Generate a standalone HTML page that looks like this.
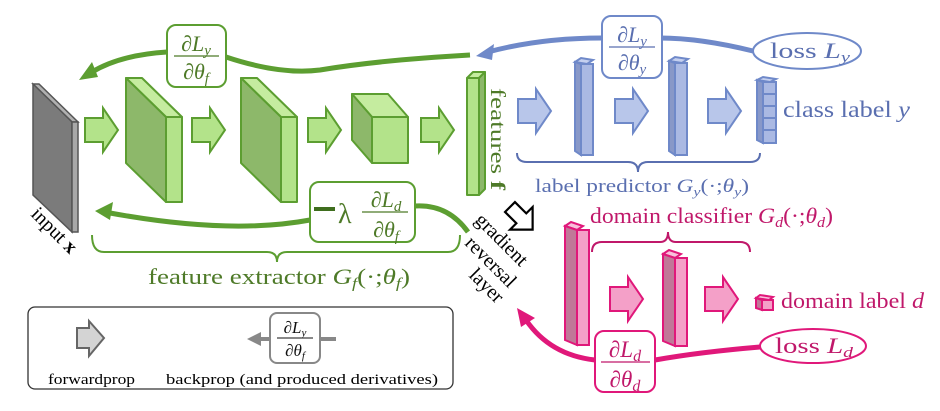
<!DOCTYPE html>
<html><head><meta charset="utf-8"><style>
html,body{margin:0;padding:0;background:#fff;}
svg{display:block;font-family:"Liberation Serif",serif;}
</style></head><body>
<svg width="940" height="411" viewBox="0 0 940 411" xmlns="http://www.w3.org/2000/svg">
<defs>
<g id="garr"><path d="M0,10 H18 V0 L33,22 L18,44 V34 H0 Z"/></g>
</defs>

<!-- input slab -->
<polygon points="33,84 39,84 78,122 72,122" fill="#b0b0b0" stroke="#555" stroke-width="1.5"/>
<polygon points="33,84 72,122 72,232 33,195" fill="#7b7b7b" stroke="#555" stroke-width="1.5"/>
<rect x="72" y="122" width="6" height="110" fill="#a8a8a8" stroke="#555" stroke-width="1.5"/>
<text transform="translate(30,215) rotate(45)" font-size="20">input <tspan font-weight="bold">x</tspan></text>

<!-- green forward arrows -->
<g fill="#b3e38a" stroke="#5c9e31" stroke-width="2">
<use href="#garr" x="85" y="108"/>
<use href="#garr" x="192" y="108"/>
<use href="#garr" x="308" y="108"/>
<use href="#garr" x="421" y="108"/>
</g>
<g stroke="#5c9e31" stroke-width="2" stroke-linejoin="round">
<polygon points="126,78 142,78 182,117 166,117" fill="#c5ec9f"/>
<polygon points="126,78 166,117 166,202 126,163" fill="#8db86a"/>
<rect x="166" y="117" width="16" height="85" fill="#b3e38a"/>
<polygon points="241,78 257,78 297,117 281,117" fill="#c5ec9f"/>
<polygon points="241,78 281,117 281,202 241,163" fill="#8db86a"/>
<rect x="281" y="117" width="16" height="85" fill="#b3e38a"/>
<polygon points="352,94 388,94 408,117 372,117" fill="#c5ec9f"/>
<polygon points="352,94 372,117 372,163 352,140" fill="#8db86a"/>
<rect x="372" y="117" width="36" height="46" fill="#b3e38a"/>
<polygon points="467,78 473,72 485,72 479,78" fill="#c5ec9f"/>
<rect x="467" y="78" width="12" height="117" fill="#b3e38a"/>
<polygon points="479,78 485,72 485,189 479,195" fill="#8db86a"/>
</g>
<text transform="translate(491,88) rotate(90)" font-size="21" fill="#4e7a28" textLength="102" lengthAdjust="spacingAndGlyphs">features <tspan font-weight="bold">f</tspan></text>

<!-- blue -->
<g fill="#b8c6ea" stroke="#6f89c9" stroke-width="2">
<use href="#garr" x="518" y="89"/>
<use href="#garr" x="615" y="89"/>
<use href="#garr" x="708" y="89"/>
</g>
<g stroke="#6f89c9" stroke-width="2" fill="#aab9e3">
<polygon points="575,62 581,58 593,60 587,64" fill="#c5d0ef"/>
<rect x="581" y="64" width="12" height="91"/>
<polygon points="575,62 581,64 581,155 575,151" fill="#8898c8"/>
<polygon points="669,61 675,57 688,59 682,63" fill="#c5d0ef"/>
<rect x="675" y="63" width="12" height="92"/>
<polygon points="669,61 675,63 675,155 669,151" fill="#8898c8"/>
<polygon points="757,80 763,77 776,79 770,82" fill="#c5d0ef"/>
<rect x="763" y="82" width="13" height="61"/>
<polygon points="757,80 763,82 763,143 757,140" fill="#8898c8"/>
<line x1="763" y1="94" x2="776" y2="94"/><line x1="763" y1="106" x2="776" y2="106"/><line x1="763" y1="118" x2="776" y2="118"/><line x1="763" y1="130" x2="776" y2="130"/>
</g>
<text x="783" y="117" font-size="23" fill="#5a6fb0" textLength="127" lengthAdjust="spacingAndGlyphs">class label <tspan font-style="italic">y</tspan></text>
<path d="M517,153 Q517,162 527,162 L628,162 Q638,162 638,172 Q638,162 648,162 L750,162 Q760,162 760,153" fill="none" stroke="#5a6fb0" stroke-width="2"/>
<text x="535" y="192" font-size="19" fill="#5a6fb0" textLength="214" lengthAdjust="spacingAndGlyphs">label predictor <tspan font-style="italic">G<tspan font-size="13" dy="4">y</tspan></tspan><tspan dy="-4">(·;</tspan><tspan font-style="italic">θ<tspan font-size="13" dy="4">y</tspan></tspan><tspan dy="-4">)</tspan></text>
<ellipse cx="807" cy="51" rx="54" ry="18" fill="#fff" stroke="#6f89c9" stroke-width="2"/>
<text x="770" y="58" font-size="22" fill="#5a6fb0" textLength="80" lengthAdjust="spacingAndGlyphs">loss <tspan font-style="italic">L<tspan font-size="15" dy="4">y</tspan></tspan></text>
<path d="M753,51 Q700,38 660,38 M602,38 Q540,38 488,52" fill="none" stroke="#6f89c9" stroke-width="5"/>
<polygon points="476,56 494,44 492,60" fill="#6f89c9"/>
<rect x="602" y="16" width="60" height="62" rx="9" fill="#fff" stroke="#6f89c9" stroke-width="2"/>
<g fill="#5a6fb0" font-size="22" text-anchor="middle">
<text x="632" y="42">∂<tspan font-style="italic">L<tspan font-size="15" dy="4">y</tspan></tspan></text>
<line x1="609" y1="47" x2="655" y2="47" stroke="#5a6fb0" stroke-width="1.3"/>
<text x="632" y="70">∂<tspan font-style="italic">θ<tspan font-size="15" dy="4">y</tspan></tspan></text>
</g>

<!-- green top backprop -->
<path d="M470,55 Q380,60 320,70 Q280,75 226,57 M167,52 Q120,55 92,72" fill="none" stroke="#5c9e31" stroke-width="5"/>
<polygon points="79,80 92,62 98,77" fill="#5c9e31"/>
<rect x="167" y="25" width="59" height="62" rx="9" fill="#fff" stroke="#5c9e31" stroke-width="2"/>
<g fill="#4e7a28" font-size="22" text-anchor="middle">
<text x="196" y="51">∂<tspan font-style="italic">L<tspan font-size="15" dy="4">y</tspan></tspan></text>
<line x1="174" y1="56" x2="219" y2="56" stroke="#4e7a28" stroke-width="1.3"/>
<text x="196" y="79">∂<tspan font-style="italic">θ<tspan font-size="15" dy="4">f</tspan></tspan></text>
</g>

<!-- green bottom backprop -->
<path d="M468,232 Q448,204 415,206 M310,220 Q230,235 110,213" fill="none" stroke="#5c9e31" stroke-width="5"/>
<polygon points="95,211 113,202 110,220" fill="#5c9e31"/>
<rect x="310" y="182" width="105" height="60" rx="9" fill="#fff" stroke="#5c9e31" stroke-width="2"/>
<rect x="314" y="207" width="21" height="4" fill="#3f6e1e"/>
<text x="338" y="223" font-size="28" fill="#4e7a28">λ</text>
<g fill="#4e7a28" font-size="22" text-anchor="middle">
<text x="386" y="207">∂<tspan font-style="italic">L<tspan font-size="15" dy="4">d</tspan></tspan></text>
<line x1="362" y1="212" x2="408" y2="212" stroke="#4e7a28" stroke-width="1.3"/>
<text x="386" y="237">∂<tspan font-style="italic">θ<tspan font-size="15" dy="4">f</tspan></tspan></text>
</g>
<path d="M92,235 Q92,252 104,252 L267,252 Q277,252 277,262 Q277,252 287,252 L448,252 Q460,252 460,235" fill="none" stroke="#5c9e31" stroke-width="2"/>
<text x="148" y="284" font-size="22" fill="#4e7a28" textLength="262" lengthAdjust="spacingAndGlyphs">feature extractor <tspan font-style="italic">G<tspan font-size="15" dy="4">f</tspan></tspan><tspan dy="-4">(·;</tspan><tspan font-style="italic">θ<tspan font-size="15" dy="4">f</tspan></tspan><tspan dy="-4">)</tspan></text>

<!-- gradient reversal -->
<g font-size="20" fill="#000">
<text transform="translate(474,221) rotate(45)">gradient</text>
<text transform="translate(464,244) rotate(45)">reversal</text>
<text transform="translate(468,276) rotate(45)">layer</text>
</g>
<polygon points="0,-7 16,-7 16,-16 32,0 16,16 16,7 0,7" transform="translate(510,207) rotate(45)" fill="#fff" stroke="#000" stroke-width="2.2"/>

<!-- pink -->
<g stroke="#e0187a" stroke-width="2">
<polygon points="565,226 571,222 583,226 577,230" fill="#f8c0dc"/>
<rect x="577" y="230" width="12" height="115" fill="#f4a0c8"/>
<polygon points="565,226 577,230 577,345 565,340" fill="#c07898"/>
<polygon points="663,254 669,250 681,254 675,258" fill="#f8c0dc"/>
<rect x="675" y="258" width="12" height="88" fill="#f4a0c8"/>
<polygon points="663,254 675,258 675,346 663,341" fill="#c07898"/>
<polygon points="756,298 760,295 773,297 769,300" fill="#f8c0dc"/>
<rect x="762" y="300" width="11" height="10" fill="#f4a0c8"/>
<polygon points="756,298 762,300 762,310 756,308" fill="#c07898"/>
</g>
<g fill="#f4a0c8" stroke="#e0187a" stroke-width="2">
<use href="#garr" x="610" y="277"/>
<use href="#garr" x="705" y="277"/>
</g>
<text x="781" y="308" font-size="22" fill="#c0186a" textLength="143" lengthAdjust="spacingAndGlyphs">domain label <tspan font-style="italic">d</tspan></text>
<text x="590" y="223" font-size="22" fill="#c0186a" textLength="243" lengthAdjust="spacingAndGlyphs">domain classifier <tspan font-style="italic">G<tspan font-size="15" dy="4">d</tspan></tspan><tspan dy="-4">(·;</tspan><tspan font-style="italic">θ<tspan font-size="15" dy="4">d</tspan></tspan><tspan dy="-4">)</tspan></text>
<path d="M592,252 Q592,242 602,242 L660,242 Q668,242 668,232 Q668,242 676,242 L740,242 Q750,242 750,252" fill="none" stroke="#c0186a" stroke-width="2"/>
<ellipse cx="813" cy="346" rx="53" ry="17" fill="#fff" stroke="#e0187a" stroke-width="2"/>
<text x="775" y="353" font-size="22" fill="#c0186a" textLength="78" lengthAdjust="spacingAndGlyphs">loss <tspan font-style="italic">L<tspan font-size="15" dy="4">d</tspan></tspan></text>
<path d="M760,347 Q700,352 655,360 M595,360 Q550,355 526,320" fill="none" stroke="#e0187a" stroke-width="5"/>
<polygon points="517,308 535,318 521,327" fill="#e0187a"/>
<rect x="595" y="331" width="60" height="61" rx="9" fill="#fff" stroke="#e0187a" stroke-width="2"/>
<g fill="#c0186a" font-size="23" text-anchor="middle">
<text x="625" y="357">∂<tspan font-style="italic">L<tspan font-size="16" dy="4">d</tspan></tspan></text>
<line x1="601" y1="362" x2="650" y2="362" stroke="#c0186a" stroke-width="1.3"/>
<text x="625" y="387">∂<tspan font-style="italic">θ<tspan font-size="16" dy="4">d</tspan></tspan></text>
</g>

<!-- legend -->
<rect x="28" y="307" width="425" height="82" rx="7" fill="#fff" stroke="#333" stroke-width="1.3"/>
<path d="M77,328 H89 V321 L104,338 L89,356 V348 H77 Z" fill="#d4d4d4" stroke="#666" stroke-width="2"/>
<text x="48" y="384" font-size="15" textLength="87" lengthAdjust="spacingAndGlyphs">forwardprop</text>
<line x1="320" y1="339" x2="336" y2="339" stroke="#888" stroke-width="4"/>
<line x1="258" y1="339" x2="270" y2="339" stroke="#888" stroke-width="4"/>
<polygon points="247,339 261,332 261,346" fill="#888"/>
<rect x="270" y="313" width="50" height="50" rx="7" fill="#fff" stroke="#888" stroke-width="2"/>
<g font-size="17" text-anchor="middle" fill="#111">
<text x="295" y="333">∂<tspan font-style="italic">L<tspan font-size="11" dy="3">y</tspan></tspan></text>
<line x1="277" y1="338" x2="313" y2="338" stroke="#111" stroke-width="1"/>
<text x="295" y="356">∂<tspan font-style="italic">θ<tspan font-size="11" dy="3">f</tspan></tspan></text>
</g>
<text x="166" y="384" font-size="15" textLength="272" lengthAdjust="spacingAndGlyphs">backprop (and produced derivatives)</text>
</svg>
</body></html>
